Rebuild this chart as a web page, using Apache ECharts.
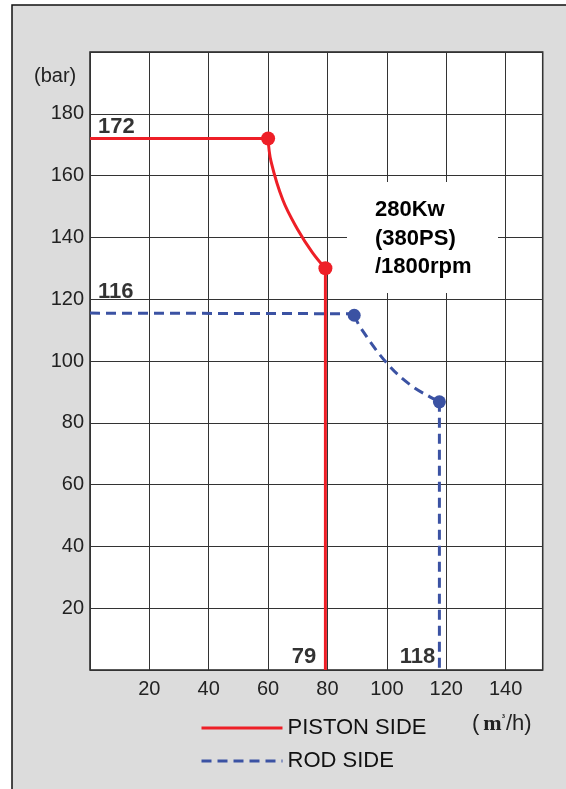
<!DOCTYPE html>
<html>
<head>
<meta charset="utf-8">
<script src="https://cdn.jsdelivr.net/npm/echarts@6/dist/echarts.min.js"></script>
<style>
html,body{margin:0;padding:0;background:#fff;}
#c{width:566px;height:789px;}
</style>
</head>
<body>
<div id="c"></div>
<script>
// ---- data ----
const xTicks = [20, 40, 60, 80, 100, 120, 140];
const yTicks = [20, 40, 60, 80, 100, 120, 140, 160, 180];
const pistonFlat = [[0, 172], [60, 172]];
const pistonCurve = [[60, 172], [61, 164.5], [65, 152], [70, 142.5], [75, 135], [79.3, 130]];
const pistonDrop = [[79.3, 130], [79.3, 0]];
const pistonPoints = [[60, 172], [79.3, 130]];
const rodFlat = [[0, 115.5], [89, 115.3]];
const rodCurve = [[89, 115], [91, 111], [100, 99.3], [108, 92.2], [114.5, 88.4], [117.7, 86.8]];
const rodDrop = [[117.7, 86.8], [117.7, 0]];
const rodPoints = [[89, 114.8], [117.7, 86.8]];
const valueLabels = [[2.7, 175.7, '172', 'left'], [2.7, 122.5, '116', 'left'], [76.2, 4.3, '79', 'right'], [116.3, 4.3, '118', 'right']];
const noteText = '280Kw\n(380PS)\n/1800rpm';
const yName = '(bar)';
const seriesNames = ['PISTON SIDE', 'ROD SIDE'];

const RED = '#ee1f27';
const BLUE = '#3b52a3';
const FONT = '"Liberation Sans", Arial, sans-serif';

const chart = echarts.init(document.getElementById('c'), null, {renderer: 'canvas'});

function lineSeries(name, data, color, dashed, smooth) {
  return {
    name: name, type: 'line', data: data, smooth: smooth, symbol: 'none',
    lineStyle: {color: color, width: 3, type: dashed ? [10, 6] : 'solid'},
    itemStyle: {color: color, opacity: 0}, z: 3, animation: false
  };
}

const option = {
  animation: false,
  backgroundColor: 'transparent',
  textStyle: {fontFamily: FONT},
  graphic: [
    {type: 'rect', z: -100, shape: {x: 12, y: 5, width: 620, height: 850},
     style: {fill: '#dcdcdc', stroke: '#111', lineWidth: 1.5}},
    {type: 'text', left: 34, top: 66, z: 10,
     style: {text: yName, font: '20px ' + FONT, fill: '#222'}},
    {type: 'rect', z: 5, shape: {x: 347, y: 182, width: 151, height: 111},
     style: {fill: '#fff'}},
    {type: 'text', z: 10, left: 375, top: 196,
     style: {text: noteText, font: 'bold 22px ' + FONT, fill: '#000', lineHeight: 28.5}},
    {type: 'text', z: 10, left: 472, top: 713,
     style: {text: '({m|m}{s|³}/h)', font: '22px ' + FONT, fill: '#222',
       rich: {
         m: {fontFamily: '"Liberation Serif", serif', fontWeight: 'bold', fontSize: 22, color: '#222', padding: [0, 0, 0, 4]},
         s: {fontFamily: '"Liberation Serif", serif', fontWeight: 'bold', fontSize: 11, color: '#222', verticalAlign: 'top', padding: [0, 1, 8, 0]}
       }}}
  ],
  grid: {left: 90, top: 52, width: 452.7, height: 618, show: true,
         backgroundColor: '#fff', borderColor: '#222', borderWidth: 1.5, containLabel: false},
  legend: {
    data: seriesNames, orient: 'vertical', left: 195, top: 712,
    itemWidth: 81, itemHeight: 14, itemGap: 11,
    itemStyle: {opacity: 0},
    lineStyle: {width: 3},
    textStyle: {fontSize: 22, color: '#111', fontFamily: FONT, lineHeight: 22},
    selectedMode: false
  },
  xAxis: {
    type: 'value', min: 0, max: 152.5, interval: 20,
    axisLine: {show: false}, axisTick: {show: false},
    splitLine: {show: true, lineStyle: {color: '#333', width: 1}},
    axisLabel: {fontSize: 20, color: '#222', margin: 9, fontFamily: FONT,
      formatter: v => xTicks.indexOf(v) >= 0 ? String(v) : ''}
  },
  yAxis: {
    type: 'value', min: 0, max: 200, interval: 20,
    axisLine: {show: false}, axisTick: {show: false},
    splitLine: {show: true, lineStyle: {color: '#333', width: 1}},
    axisLabel: {fontSize: 20, color: '#222', margin: 6, fontFamily: FONT,
      formatter: v => yTicks.indexOf(v) >= 0 ? String(v) : ''}
  },
  series: [
    lineSeries(seriesNames[0], pistonFlat, RED, false, false),
    lineSeries(seriesNames[0], pistonCurve, RED, false, 0.4),
    lineSeries(seriesNames[0], pistonDrop, RED, false, false),
    lineSeries(seriesNames[1], rodFlat, BLUE, true, false),
    lineSeries(seriesNames[1], rodCurve, BLUE, true, 0.4),
    lineSeries(seriesNames[1], rodDrop, BLUE, true, false),
    {type: 'scatter', data: pistonPoints, symbolSize: 14, itemStyle: {color: RED, opacity: 1}, z: 4},
    {type: 'scatter', data: rodPoints, symbolSize: 13, itemStyle: {color: BLUE, opacity: 1}, z: 4},
    {type: 'scatter', data: valueLabels.map(d => ({value: [d[0], d[1]], name: d[2],
        label: {show: true, formatter: d[2], position: 'inside', align: d[3],
          fontSize: 22, fontWeight: 'bold', color: '#000', fontFamily: FONT}})),
     symbolSize: 1, itemStyle: {color: 'transparent'}, z: 6}
  ]
};
chart.setOption(option);
</script>
</body>
</html>
